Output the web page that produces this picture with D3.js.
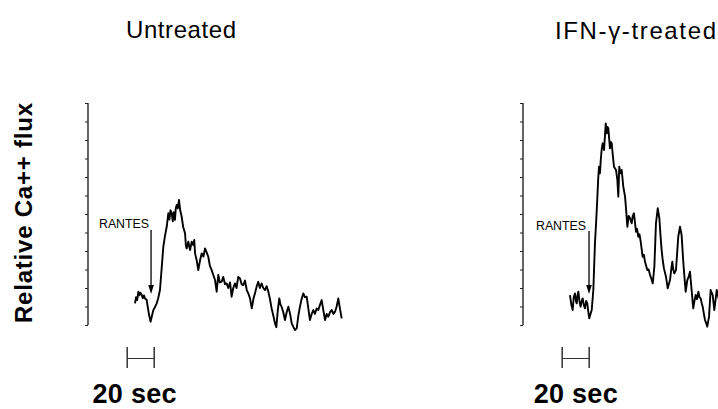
<!DOCTYPE html>
<html><head><meta charset="utf-8">
<script src="https://cdn.jsdelivr.net/npm/d3@7"></script>
<style>html,body{margin:0;padding:0;background:#fff;overflow:hidden}svg{display:block}</style>
</head><body>
<svg id="c" width="718" height="409"></svg>
<script>
// ---- data ----
const panelTitles = ["Untreated", "IFN-\u03b3-treated"];
const yLabel = "Relative Ca++ flux";
const scaleBarLabel = "20 sec";
const scaleBarSec = [29, 49];
const stimulusLabel = "RANTES";
const stimulusTime = [46.7, 48.9];
const yTickValues = [0,1,2,3,4,5,6,7,8,9,10,11,12];

const untreatedT = [34.8,35.6,36.4,37.3,38.0,38.8,39.8,40.6,41.4,42.2,43.5,44.3,45.2,46.4,47.2,48.4,49.5,50.9,52.0,53.3,54.5,55.8,57.0,58.3,59.5,60.3,61.1,62.0,62.8,63.5,64.4,65.0,65.7,66.5,67.4,68.3,69.4,70.5,71.9,72.5,73.1,74.3,75.6,76.8,78.0,78.7,79.3,80.5,81.7,83.0,84.2,85.5,86.7,88.0,89.1,90.3,91.6,92.8,94.1,95.3,96.5,97.7,99.0,100.2,101.5,102.7,103.9,105.2,106.4,107.6,108.9,110.0,111.3,112.6,113.8,115.0,116.3,117.6,118.8,120.0,121.3,122.5,123.7,125.0,126.1,127.3,128.6,129.8,131.1,132.3,133.6,134.8,136.0,137.3,138.5,139.5,140.6,141.7,142.6,143.4,144.6,145.9,147.2,148.4,149.7,150.9,152.1,153.3,154.6,155.8,157.0,158.2,159.5,160.7,162.0,163.2,164.4,165.7,166.9,168.1,169.4,170.6,171.9,173.1,174.3,175.6,176.8,178.0,179.3,180.5,181.8,183.0,184.2,185.4,186.6,187.9];
const untreatedV = [1.17,1.5,1.35,1.80,1.6,1.75,1.62,1.45,1.6,1.44,1.35,0.95,0.55,0.18,0.45,0.81,0.95,1.17,1.45,1.89,3.0,4.23,4.8,5.31,6.04,5.7,6.2,6.04,5.6,6.1,5.68,6.3,6.49,6.3,6.76,6.2,5.85,5.3,4.95,4.3,4.14,4.5,4.05,4.5,4.32,4.6,3.87,3.5,2.97,3.5,3.87,3.7,4.14,3.9,3.69,3.2,2.97,2.7,2.43,1.80,2.70,2.3,2.34,2.6,2.2,2.25,2.0,2.3,1.53,2.0,2.25,2.0,2.6,2.52,2.2,2.16,2.4,1.89,1.7,1.44,0.90,1.4,1.71,2.1,2.34,2.0,2.25,2.0,1.89,2.1,1.80,1.4,0.90,0.5,0.09,-0.12,0.8,1.44,1.1,0.99,0.7,0.27,0.7,0.99,0.6,0.09,-0.1,-0.27,-0.18,0.5,0.99,1.4,1.71,1.5,1.53,0.9,0.27,0.6,0.81,0.6,0.9,0.81,1.1,1.35,0.8,0.27,0.6,0.45,0.7,0.81,0.6,0.72,1.0,1.44,0.9,0.36];

const treatedT = [34.8,35.8,36.8,37.6,38.5,39.2,39.8,40.4,41.0,41.8,42.7,43.5,44.2,45.0,45.9,46.8,47.6,48.4,49.1,50.0,50.9,52.1,53.3,54.2,55.0,55.7,56.3,57.0,57.6,58.3,59.0,60.0,60.7,61.3,62.0,62.6,63.2,63.8,64.4,65.0,65.7,66.5,67.4,68.9,69.9,70.6,71.3,72.2,73.1,74.3,75.6,76.4,77.3,78.3,79.3,80.5,81.3,82.2,83.0,83.7,84.5,85.4,86.3,87.2,88.6,89.5,90.4,91.2,92.1,93.1,94.1,95.1,96.1,97.3,98.5,99.8,101.0,101.8,102.7,103.5,104.4,105.9,107.2,108.0,108.9,109.8,110.6,111.3,112.1,113.3,114.2,115.0,116.3,117.5,118.8,119.7,120.5,121.7,122.7,123.7,124.9,126.1,127.0,127.9,128.9,129.9,130.7,131.6,132.3,133.1,134.0,134.8,135.7,136.5,137.8,139.0,140.5,141.7,143.5,145.0];
const treatedV = [1.62,1.1,0.81,1.5,1.71,1.3,1.17,1.6,1.80,1.3,0.99,1.3,1.44,1.1,0.90,1.3,1.17,0.7,0.36,0.6,0.81,1.89,4.41,5.6,6.76,7.9,8.56,8.20,8.92,9.5,9.82,9.46,10.2,10.9,10.36,10.7,10.63,10.1,9.55,9.9,9.82,9.2,8.56,8.38,7.84,6.94,8.56,8.2,8.38,7.48,6.94,6.2,5.31,5.9,5.77,5.50,5.9,6.04,5.5,5.04,5.2,4.77,4.9,4.50,3.69,3.8,3.42,3.2,2.97,3.0,2.70,2.5,2.25,3.15,5.50,6.31,5.77,4.9,4.05,3.5,3.06,2.61,1.98,2.2,2.43,3.0,3.42,3.0,2.79,2.97,3.9,4.77,5.31,4.86,3.33,2.5,1.80,2.43,2.6,2.88,1.89,0.90,1.3,1.62,1.4,1.80,1.5,1.44,1.2,0.99,0.6,0.27,0.1,-0.09,0.45,1.89,1.62,0.81,1.89,1.4];

// ---- layout ----
const svg = d3.select("#c");
const yTop = 103, yBot = 325;
const pxPerSec = 1.35, tMax = 190;
const panels = [
  {axisX: 88, t: untreatedT, v: untreatedV, title: panelTitles[0], titleX: 126, titleY: 38, titleLen: 110,
   labelEndX: 149, labelY: 228, arrowTop: 230, arrowTip: 294, stim: stimulusTime[0],
   barLabelX: 134.5, barLabelY: 403},
  {axisX: 523, t: treatedT, v: treatedV, title: panelTitles[1], titleX: 555, titleY: 39, titleLen: 161,
   labelEndX: 586, labelY: 230, arrowTop: 231, arrowTip: 294, stim: stimulusTime[1],
   barLabelX: 575.7, barLabelY: 403}
];

const y = d3.scaleLinear().domain([0, 12]).range([yBot, yTop]);

panels.forEach(p => {
  const x = d3.scaleLinear().domain([0, tMax]).range([p.axisX, p.axisX + tMax * pxPerSec]);
  const g = svg.append("g");

  // axis
  const ax = g.append("g").attr("transform", `translate(${p.axisX},0)`)
    .call(d3.axisLeft(y).tickValues(yTickValues).tickSize(3).tickFormat(""));
  ax.select(".domain").attr("stroke", "#111").attr("stroke-width", 1.3)
    .attr("d", `M0,${yTop}V${yBot}`);
  ax.selectAll(".tick line").attr("stroke", "#222").attr("stroke-width", 1);

  // trace
  const pts = p.t.map((t, i) => [t, p.v[i]]);
  g.append("path").datum(pts)
    .attr("fill", "none").attr("stroke", "#000").attr("stroke-width", 1.9)
    .attr("stroke-linejoin", "round")
    .attr("d", d3.line().x(d => x(d[0])).y(d => y(d[1])));

  // title
  g.append("text").attr("x", p.titleX).attr("y", p.titleY)
    .attr("font-family", "Liberation Sans, Arial, sans-serif").attr("font-size", 24)
    .attr("textLength", p.titleLen).attr("lengthAdjust", "spacing")
    .attr("fill", "#000").text(p.title);

  // stimulus label + arrow
  g.append("text").attr("x", p.labelEndX).attr("y", p.labelY)
    .attr("text-anchor", "end")
    .attr("font-family", "Liberation Sans, Arial, sans-serif").attr("font-size", 12.5)
    .attr("textLength", 50).attr("lengthAdjust", "spacingAndGlyphs")
    .attr("fill", "#000").text(stimulusLabel);
  const ax0 = x(p.stim);
  g.append("line").attr("x1", ax0).attr("x2", ax0).attr("y1", p.arrowTop).attr("y2", p.arrowTip - 8)
    .attr("stroke", "#000").attr("stroke-width", 1.3);
  g.append("path")
    .attr("d", `M${ax0 - 2.8},${p.arrowTip - 9}L${ax0 + 2.8},${p.arrowTip - 9}L${ax0},${p.arrowTip}Z`)
    .attr("fill", "#000");

  // scale bar
  const b0 = x(scaleBarSec[0]), b1 = x(scaleBarSec[1]);
  const by0 = 347, by1 = 368, bm = 358.5;
  g.append("line").attr("x1", b0).attr("x2", b0).attr("y1", by0).attr("y2", by1).attr("stroke", "#000").attr("stroke-width", 1.2);
  g.append("line").attr("x1", b1).attr("x2", b1).attr("y1", by0).attr("y2", by1).attr("stroke", "#000").attr("stroke-width", 1.2);
  g.append("line").attr("x1", b0).attr("x2", b1).attr("y1", bm).attr("y2", bm).attr("stroke", "#333").attr("stroke-width", 1);
  g.append("text").attr("x", p.barLabelX).attr("y", p.barLabelY)
    .attr("text-anchor", "middle")
    .attr("font-family", "Liberation Sans, Arial, sans-serif").attr("font-size", 27).attr("font-weight", "bold")
    .attr("textLength", 84).attr("lengthAdjust", "spacing")
    .attr("fill", "#000").text(scaleBarLabel);
});

// y label
svg.append("text")
  .attr("transform", "translate(32,213) rotate(-90)")
  .attr("text-anchor", "middle")
  .attr("font-family", "Liberation Sans, Arial, sans-serif").attr("font-size", 24).attr("font-weight", "bold")
  .attr("textLength", 220).attr("lengthAdjust", "spacing")
  .attr("fill", "#000").text(yLabel);
</script>
</body></html>
